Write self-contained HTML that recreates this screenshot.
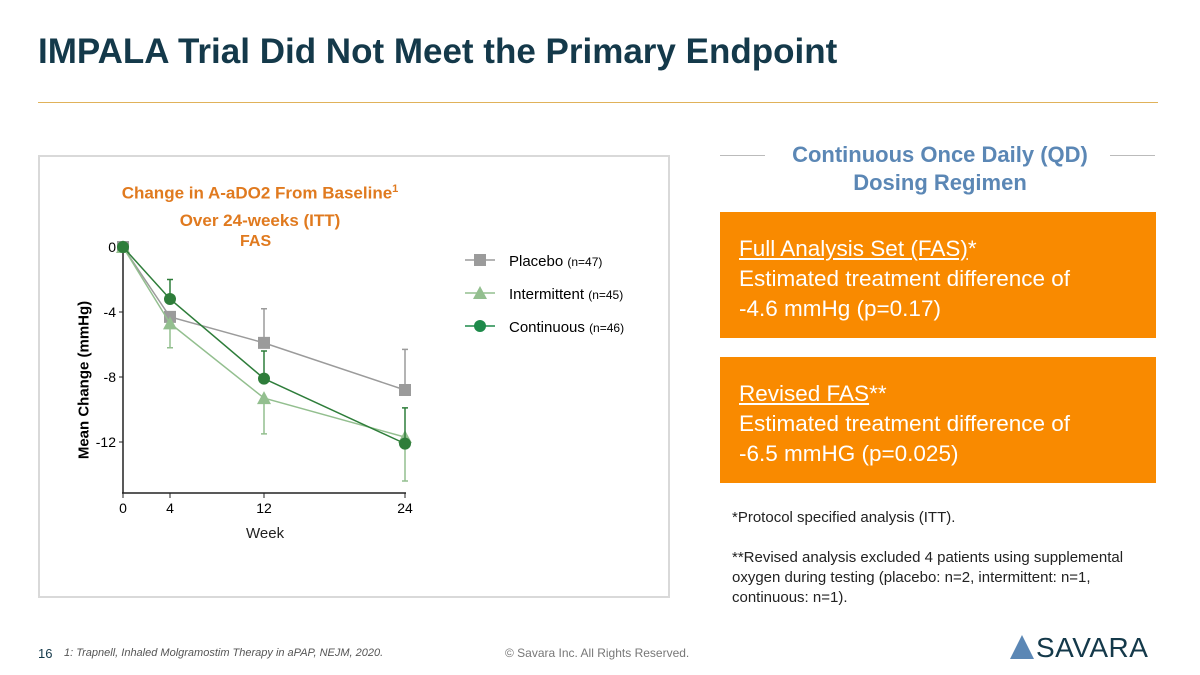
<!DOCTYPE html>
<html><head><meta charset="utf-8"><style>
body{margin:0;width:1200px;height:675px;background:#fff;font-family:"Liberation Sans",sans-serif;position:relative;overflow:hidden}
.a{position:absolute}
</style></head><body>
<div class="a" style="left:38px;top:32px;font-size:35px;font-weight:bold;color:#14394a">IMPALA Trial Did Not Meet the Primary Endpoint</div>
<div class="a" style="left:38px;top:102px;width:1120px;height:1px;background:#e0b25a"></div>
<div class="a" style="left:38px;top:155px;width:632px;height:443px;border:2px solid #d9d9d9;box-sizing:border-box"></div>
<div class="a" style="left:105px;top:176px;width:310px;text-align:center;font-size:17px;font-weight:bold;color:#e07a1f;line-height:27px;white-space:nowrap">Change in A-aDO2 From Baseline<sup style="font-size:11px">1</sup><br>Over 24-weeks (ITT)</div>
<div class="a" style="left:240px;top:233px;font-size:16px;font-weight:bold;color:#e07a1f">FAS</div>
<svg class="a" style="left:0;top:0" width="700" height="620" id="chart"></svg>
<div class="a" style="left:84px;top:380px;transform:translate(-50%,-50%) rotate(-90deg);font-size:15px;font-weight:bold;white-space:nowrap">Mean Change (mmHg)</div>
<div class="a" style="left:246px;top:525px;font-size:15px;color:#222">Week</div>

<div class="a" style="left:720px;top:141px;width:440px;text-align:center;font-size:22px;font-weight:bold;color:#5b87b5;line-height:28px">Continuous Once Daily (QD)<br>Dosing Regimen</div>
<div class="a" style="left:720px;top:155px;width:45px;height:1px;background:#bbb"></div>
<div class="a" style="left:1110px;top:155px;width:45px;height:1px;background:#bbb"></div>
<div class="a" style="left:720px;top:212px;width:436px;height:126px;background:#f98a00;color:#fff;font-size:22.5px;line-height:30px;padding:22px 0 0 19px;box-sizing:border-box"><u>Full Analysis Set (FAS)</u>*<br>Estimated treatment difference of<br>-4.6 mmHg (p=0.17)</div>
<div class="a" style="left:720px;top:357px;width:436px;height:126px;background:#f98a00;color:#fff;font-size:22.5px;line-height:30px;padding:22px 0 0 19px;box-sizing:border-box"><u>Revised FAS</u>**<br>Estimated treatment difference of<br>-6.5 mmHG (p=0.025)</div>
<div class="a" style="left:732px;top:508px;font-size:15px;line-height:20px;color:#222;width:420px">*Protocol specified analysis (ITT).<br><br>**Revised analysis excluded 4 patients using supplemental oxygen during testing (placebo: n=2, intermittent: n=1, continuous: n=1).</div>
<div class="a" style="left:38px;top:646px;font-size:13px;color:#14394a">16</div>
<div class="a" style="left:64px;top:647px;font-size:11px;font-style:italic;color:#555">1: Trapnell, Inhaled Molgramostim Therapy in aPAP, NEJM, 2020.</div>
<div class="a" style="left:505px;top:646px;font-size:12px;color:#777">© Savara Inc. All Rights Reserved.</div>
<div class="a" style="left:1010px;top:632px;font-size:28px;color:#14394a;letter-spacing:0.5px"><span style="display:inline-block;width:0;height:0;border-left:12px solid transparent;border-right:12px solid transparent;border-bottom:24px solid #5b87b5;vertical-align:-2px;margin-right:2px"></span>SAVARA</div>
<script>
const weeks=[0,4,12,24];
const yTicks=[0,-4,-8,-12];
const xTicks=[0,4,12,24];
const placebo=[0,-4.3,-5.9,-8.8];
const placeboErr=[0,0,2.1,2.5];
const intermittent=[0,-4.7,-9.3,-11.7];
const intermittentErr=[0,-1.5,-2.2,-2.7];
const continuous=[0,-3.2,-8.1,-12.1];
const continuousErr=[0,1.2,1.7,2.2];
const legendNames=["Placebo","Intermittent","Continuous"];
const legendN=["(n=47)","(n=45)","(n=46)"];
const NS="http://www.w3.org/2000/svg";
const svg=document.getElementById('chart');
const X=w=>123+w*(405-123)/24;
const Y=v=>247-v*(442-247)/12;
function el(t,a,p){const e=document.createElementNS(NS,t);for(const k in a)e.setAttribute(k,a[k]);(p||svg).appendChild(e);return e;}
let ax=el('line',{x1:123,y1:245,x2:123,y2:493,stroke:'#222','stroke-width':1.5});

let bx=el('line',{x1:122,y1:493,x2:406,y2:493,stroke:'#222','stroke-width':1.5});

yTicks.forEach(v=>{el('line',{x1:119,x2:123,y1:Y(v),y2:Y(v),stroke:'#222'});
const t=el('text',{x:116,y:Y(v)+5,'text-anchor':'end','font-size':14,'font-family':'Liberation Sans'});t.textContent=v;
});
xTicks.forEach(w=>{el('line',{x1:X(w),x2:X(w),y1:493,y2:498,stroke:'#222'});
const t=el('text',{x:X(w),y:513,'text-anchor':'middle','font-size':14,'font-family':'Liberation Sans'});t.textContent=w;
});
function series(vals,errs,color,shape,name){
 const g=el('g',{});
 vals.forEach((v,i)=>{if(errs[i]){el('line',{x1:X(weeks[i]),x2:X(weeks[i]),y1:Y(v),y2:Y(v+errs[i]),stroke:color,'stroke-width':1.5},g);
 el('line',{x1:X(weeks[i])-3,x2:X(weeks[i])+3,y1:Y(v+errs[i]),y2:Y(v+errs[i]),stroke:color,'stroke-width':1.5},g);}});
 el('polyline',{points:vals.map((v,i)=>X(weeks[i])+','+Y(v)).join(' '),fill:'none',stroke:color,'stroke-width':1.5},g);
 vals.forEach((v,i)=>{const x=X(weeks[i]),y=Y(v);let m;
  if(shape==='sq')m=el('rect',{x:x-6,y:y-6,width:12,height:12,fill:color},g);
  else if(shape==='tri')m=el('polygon',{points:`${x},${y-7} ${x-7},${y+6} ${x+7},${y+6}`,fill:color},g);
  else m=el('circle',{cx:x,cy:y,r:6,fill:color},g);
  });
}
series(placebo,placeboErr,'#9b9b9b','sq','placebo');
series(intermittent,intermittentErr,'#93bf8f','tri','intermittent');
series(continuous,continuousErr,'#2e7d3a','ci','continuous');
const cols=['#9b9b9b','#93bf8f','#1e8a4a'],shapes=['sq','tri','ci'];
legendNames.forEach((n,i)=>{const y=260+i*33,x=480;
 const g=el('g',{});
 el('line',{x1:x-15,x2:x+15,y1:y,y2:y,stroke:cols[i],'stroke-width':1.5},g);
 if(shapes[i]==='sq')el('rect',{x:x-6,y:y-6,width:12,height:12,fill:cols[i]},g);
 else if(shapes[i]==='tri')el('polygon',{points:`${x},${y-7} ${x-7},${y+6} ${x+7},${y+6}`,fill:cols[i]},g);
 else el('circle',{cx:x,cy:y,r:6,fill:cols[i]},g);
 const t=el('text',{x:x+29,y:y+6,'font-size':15,'font-family':'Liberation Sans'},g);t.textContent=n+' ';
 const s=el('tspan',{'font-size':12},t);s.textContent=legendN[i];});
</script>
</body></html>
